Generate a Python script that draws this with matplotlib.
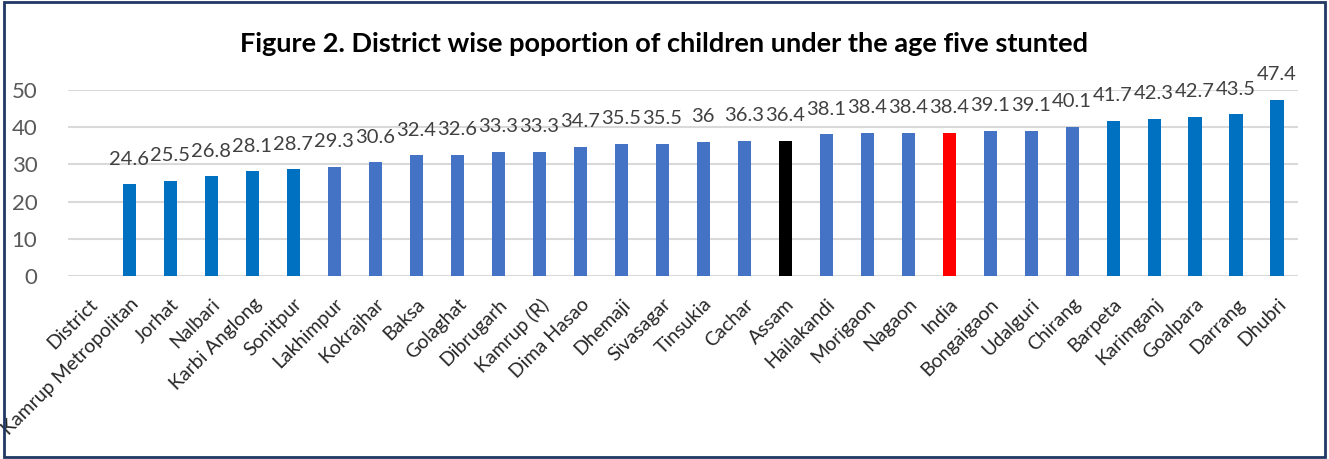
import matplotlib.pyplot as plt
from matplotlib.patches import Rectangle

# Data
districts = ['District', 'Kamrup Metropolitan', 'Jorhat', 'Nalbari', 'Karbi Anglong',
             'Sonitpur', 'Lakhimpur', 'Kokrajhar', 'Baksa', 'Golaghat', 'Dibrugarh',
             'Kamrup (R)', 'Dima Hasao', 'Dhemaji', 'Sivasagar', 'Tinsukia', 'Cachar',
             'Assam', 'Hailakandi', 'Morigaon', 'Nagaon', 'India', 'Bongaigaon',
             'Udalguri', 'Chirang', 'Barpeta', 'Karimganj', 'Goalpara', 'Darrang', 'Dhubri']
stunted = [None, 24.6, 25.5, 26.8, 28.1, 28.7, 29.3, 30.6, 32.4, 32.6, 33.3,
           33.3, 34.7, 35.5, 35.5, 36, 36.3, 36.4, 38.1, 38.4, 38.4, 38.4, 39.1,
           39.1, 40.1, 41.7, 42.3, 42.7, 43.5, 47.4]

dark_blue = '#0070C0'
mid_blue = '#4472C4'
colors = []
for i, name in enumerate(districts):
    if name == 'Assam':
        colors.append('black')
    elif name == 'India':
        colors.append('#FF0000')
    elif 1 <= i <= 5 or i >= 25:
        colors.append(dark_blue)
    else:
        colors.append(mid_blue)

plt.rcParams['font.family'] = ['Lato', 'DejaVu Sans']

fig = plt.figure(figsize=(13.29, 4.59), dpi=100)
ax = fig.add_axes([68 / 1329, (459 - 276) / 459, (1297.5 - 68) / 1329, (276 - 90) / 459])

x = list(range(len(districts)))
heights = [v if v is not None else 0 for v in stunted]
bars = ax.bar(x, heights, width=0.32, color=colors, zorder=3)

for xi, v in zip(x, stunted):
    if v is None:
        continue
    ax.annotate(f'{v:g}', (xi, v), xytext=(0, 12), textcoords='offset points',
                ha='center', va='bottom', fontsize=14.5, color='#404040')

ax.set_xlim(-0.5, len(districts) - 0.5)
ax.set_ylim(0, 50)
ax.set_yticks([0, 10, 20, 30, 40, 50])
ax.yaxis.grid(True, color='#D9D9D9', linewidth=1.5, zorder=0)
ax.set_axisbelow(True)
for s in ax.spines.values():
    s.set_visible(False)
ax.tick_params(axis='both', length=0)
ax.tick_params(axis='y', labelsize=16, labelcolor='#595959', pad=22)
ax.set_xticks(x)
ax.set_xticklabels(districts, rotation=45, ha='right', rotation_mode='anchor',
                   fontsize=14, color='#262626')
ax.tick_params(axis='x', pad=14)

fig.text(0.5, 0.905, 'Figure 2. District wise poportion of children under the age five stunted',
         ha='center', va='center', fontsize=19.5, fontweight='bold', color='black')

# border around the chart
fig.patches.append(Rectangle((4 / 1329, 2 / 459), 1321 / 1329, 455 / 459,
                             transform=fig.transFigure, fill=False,
                             edgecolor='#1F3864', linewidth=2))

plt.savefig('out.png', dpi=100)
